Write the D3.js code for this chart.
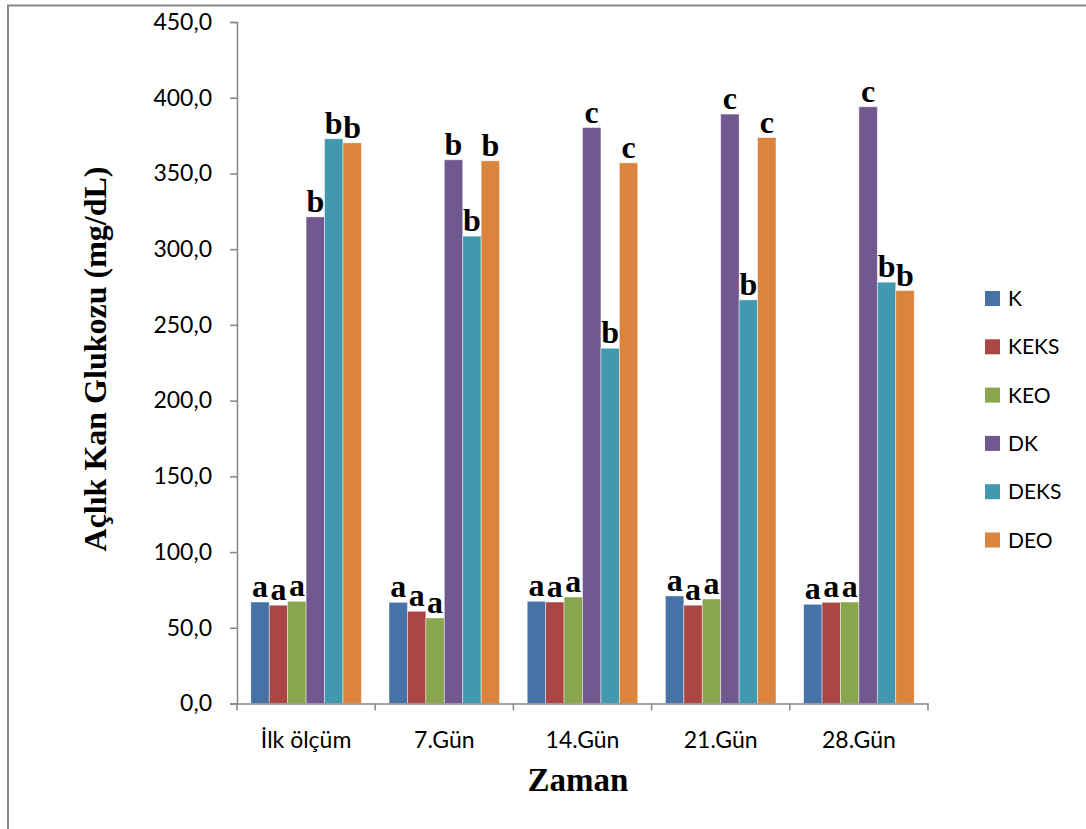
<!DOCTYPE html>
<html>
<head>
<meta charset="utf-8">
<script src="https://cdn.jsdelivr.net/npm/d3@7/dist/d3.min.js"></script>
<style>
  html, body { margin: 0; padding: 0; background: #fff; }
  svg { display: block; }
</style>
</head>
<body>
<svg id="chart" width="1086" height="829"></svg>
<script>
// Fasting blood glucose (mg/dL) per group over the measurement days
const categories = ["İlk ölçüm", "7.Gün", "14.Gün", "21.Gün", "28.Gün"];
const seriesNames = ["K", "KEKS", "KEO", "DK", "DEKS", "DEO"];
const seriesColors = ["#4572A7", "#AA4643", "#89A54E", "#71588F", "#4198AF", "#DB843D"];

const valuesK    = [67.0, 66.8, 67.5, 71.0, 65.5];
const valuesKEKS = [64.9, 60.9, 67.0, 64.9, 66.8];
const valuesKEO  = [67.5, 56.5, 70.3, 69.0, 67.0];
const valuesDK   = [321.3, 359.0, 380.3, 389.2, 394.0];
const valuesDEKS = [372.9, 308.6, 234.6, 266.5, 278.2];
const valuesDEO  = [370.2, 358.3, 357.0, 373.7, 272.7];

// Significance letters above each bar
const lettersK    = ["a", "a", "a", "a", "a"];
const lettersKEKS = ["a", "a", "a", "a", "a"];
const lettersKEO  = ["a", "a", "a", "a", "a"];
const lettersDK   = ["b", "b", "c", "c", "c"];
const lettersDEKS = ["b", "b", "b", "b", "b"];
const lettersDEO  = ["b", "b", "c", "c", "b"];

const yTicks = [0, 50, 100, 150, 200, 250, 300, 350, 400, 450];

const seriesValues = [valuesK, valuesKEKS, valuesKEO, valuesDK, valuesDEKS, valuesDEO];
const seriesLetters = [lettersK, lettersKEKS, lettersKEO, lettersDK, lettersDEKS, lettersDEO];

const rows = [];
categories.forEach((c, ci) => {
  seriesNames.forEach((s, si) => {
    rows.push({ cat: c, series: s, value: seriesValues[si][ci], letter: seriesLetters[si][ci], color: seriesColors[si] });
  });
});

const svg = d3.select("#chart");
const axisColor = "#868686";
const sansFont = "Lato, 'Open Sans', sans-serif";
const serifFont = "'Liberation Serif', 'Times New Roman', serif";

// Frame
svg.append("rect")
  .attr("x", 8).attr("y", 5.5)
  .attr("width", 1100).attr("height", 900)
  .attr("fill", "none")
  .attr("stroke", "#8a8a8a")
  .attr("stroke-width", 2);

const plot = { left: 237, right: 928, top: 22, bottom: 703.5 };

const y = d3.scaleLinear().domain([0, 450]).range([plot.bottom, plot.top]);
const x0 = d3.scaleBand().domain(categories).range([plot.left, plot.right]).padding(0);
const x1 = d3.scaleBand().domain(seriesNames).range([0, x0.bandwidth()]).paddingInner(0).paddingOuter(0.75);

const trLocale = d3.formatLocale({ decimal: ",", thousands: ".", grouping: [3], currency: ["", "₺"] });
const fmt = trLocale.format(".1f");

// Bars
svg.append("g")
  .selectAll("rect")
  .data(rows)
  .join("rect")
  .attr("x", d => x0(d.cat) + x1(d.series))
  .attr("y", d => y(d.value))
  .attr("width", x1.bandwidth())
  .attr("height", d => y(0) - y(d.value))
  .attr("fill", d => d.color)
  .attr("stroke", "rgba(255,255,255,0.55)")
  .attr("stroke-width", 0.8);

// Letters above bars
svg.append("g")
  .selectAll("text")
  .data(rows)
  .join("text")
  .attr("x", d => x0(d.cat) + x1(d.series) + x1.bandwidth() / 2)
  .attr("y", d => y(d.value) - 5)
  .attr("text-anchor", "middle")
  .attr("font-family", serifFont)
  .attr("font-weight", "bold")
  .attr("font-size", 32)
  .attr("fill", "#000")
  .text(d => d.letter);

// Y axis
const yAxis = svg.append("g")
  .attr("transform", `translate(${plot.left},0)`)
  .call(d3.axisLeft(y).tickValues(yTicks).tickFormat(fmt).tickSize(7).tickPadding(18));
yAxis.select(".domain").attr("stroke", axisColor).attr("stroke-width", 1.5);
yAxis.selectAll(".tick line").attr("stroke", axisColor).attr("stroke-width", 1.5);
yAxis.selectAll(".tick text")
  .attr("font-family", sansFont)
  .attr("font-size", 23)
  .attr("fill", "#000");

// X axis with ticks on category boundaries
const xAxis = svg.append("g")
  .attr("transform", `translate(0,${plot.bottom})`)
  .call(d3.axisBottom(x0).tickSize(0).tickPadding(28));
xAxis.select(".domain").attr("stroke", axisColor).attr("stroke-width", 1.5);
xAxis.selectAll(".tick text")
  .attr("font-family", sansFont)
  .attr("font-size", 23)
  .attr("fill", "#000");
const boundaries = categories.map(c => x0(c)).concat([x0.range()[1]]);
xAxis.selectAll("line.boundary")
  .data(boundaries)
  .join("line")
  .attr("class", "boundary")
  .attr("x1", d => d).attr("x2", d => d)
  .attr("y1", 0).attr("y2", 7)
  .attr("stroke", axisColor)
  .attr("stroke-width", 1.5);

// Axis titles
svg.append("text")
  .attr("transform", "translate(106,359) rotate(-90)")
  .attr("text-anchor", "middle")
  .attr("font-family", serifFont)
  .attr("font-weight", "bold")
  .attr("font-size", 32)
  .attr("fill", "#000")
  .text("Açlık Kan Glukozu (mg/dL)");

svg.append("text")
  .attr("x", 578)
  .attr("y", 791)
  .attr("text-anchor", "middle")
  .attr("font-family", serifFont)
  .attr("font-weight", "bold")
  .attr("font-size", 33)
  .attr("fill", "#000")
  .text("Zaman");

// Legend
const legend = svg.append("g")
  .selectAll("g")
  .data(seriesNames)
  .join("g")
  .attr("transform", (d, i) => `translate(985,${291 + i * 48.3})`);
legend.append("rect")
  .attr("width", 15).attr("height", 15)
  .attr("fill", (d, i) => seriesColors[i]);
legend.append("text")
  .attr("x", 23)
  .attr("y", 15)
  .attr("font-family", sansFont)
  .attr("font-size", 21)
  .attr("fill", "#000")
  .text(d => d);
</script>
</body>
</html>
